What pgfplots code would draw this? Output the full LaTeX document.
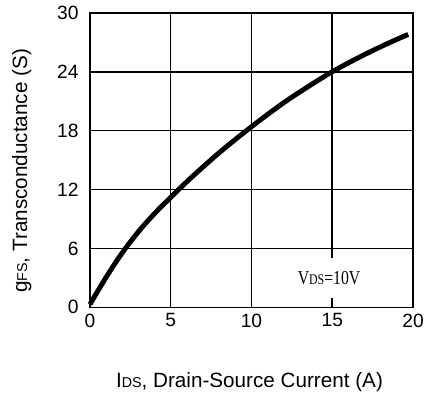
\documentclass[border=0pt]{standalone}
\usepackage{pgfplots}
\pgfplotsset{compat=1.18}
\usepackage{fontspec}
\setmainfont{Liberation Sans}
\newfontfamily\seriffont{Liberation Serif}
\begin{document}
\begin{tikzpicture}
\begin{axis}[
  scale only axis,
  width=327bp, height=298bp,
  xmin=0, xmax=20, ymin=0, ymax=30,
  xtick={0,5,10,15,20}, ytick={0,6,12,18,24,30},
  grid=major,
  major grid style={black, line width=1.6bp},
  axis line style={black, line width=1.6bp},
  major tick length=0pt,
  tick label style={font=\fontsize{19.5}{20}\selectfont},
  /pgf/number format/assume math mode=true,
  xticklabel style={yshift=-3bp},
  yticklabel style={xshift=-8bp},
  xlabel={I{\fontsize{14.5}{15}\selectfont DS}, Drain-Source Current (A)},
  ylabel={g{\fontsize{14.5}{15}\selectfont FS}, Transconductance (S)},
  label style={font=\fontsize{21}{22}\selectfont},
  xlabel style={at={(axis description cs:0.494,-0.255)}, anchor=center},
  ylabel style={at={(axis description cs:-0.211,0.463)}, anchor=center},
  clip=false,
]
\coordinate (O) at (rel axis cs:0,0);
\node[fill=white, minimum height=40bp, inner xsep=6bp, font=\seriffont\fontsize{16}{16}\selectfont] at (axis cs:14.8,3.0) {\scalebox{1}[1.25]{V{\fontsize{12}{12}\selectfont DS}=10V}};
\addplot[black, line width=5bp, smooth, tension=0.6, no marks] coordinates {
(0,0.3) (1,3.05) (2,5.55) (3,7.7) (4,9.55) (5,11.2) (6,12.8) (7,14.3) (8,15.75) (9,17.1) (10,18.4) (11,19.65) (12,20.85) (13,21.95) (14,23.0) (15,24.0) (16,24.9) (17,25.75) (18,26.55) (19,27.3) (19.7,27.8)
};
\end{axis}
\path (O) ++(-91bp,-89bp) rectangle ++(427bp,400bp);
\end{tikzpicture}
\end{document}
